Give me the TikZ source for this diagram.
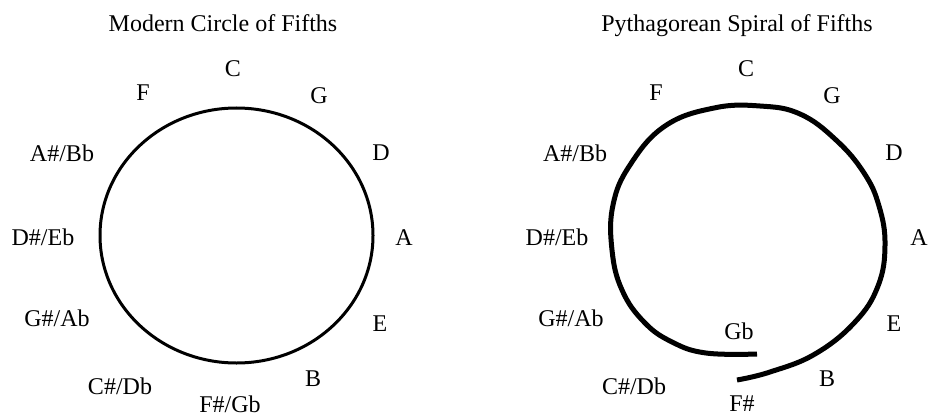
\documentclass[tikz,border=0pt]{standalone}
\usepackage{fontspec}
\setmainfont{Liberation Serif}
\begin{document}
\begin{tikzpicture}[x=1pt,y=-1pt,
  lab/.style={font=\fontsize{24}{26}\selectfont, inner sep=0pt, anchor=base},
  ring/.style={line width=3pt},
  spiralline/.style={line width=5pt, line cap=butt}]
\useasboundingbox (0,0) rectangle (928,417);
% ---- left: modern circle
\node[lab] (t1) at (223,32) {Modern Circle of Fifths};
\draw[ring] (236.5,235.5) ellipse [x radius=136.5, y radius=127.5];
\node[lab] (lC) at (233,77) {C};
\node[lab] (lG) at (319,103) {G};
\node[lab] (lF) at (143,101) {F};
\node[lab] (lD) at (381,160) {D};
\node[lab] (lAs) at (62,161) {A\#/Bb};
\node[lab] (lDs) at (43,245) {D\#/Eb};
\node[lab] (lA) at (404,245) {A};
\node[lab] (lGs) at (57,326) {G\#/Ab};
\node[lab] (lE) at (380,331) {E};
\node[lab] (lCs) at (120,394) {C\#/Db};
\node[lab] (lB) at (313,386) {B};
\node[lab] (lFs) at (230,412) {F\#/Gb};
% ---- right: pythagorean spiral
\node[lab] (t2) at (737,32) {Pythagorean Spiral of Fifths};
\draw[spiralline] plot[smooth, tension=0.7] coordinates {
 (757,354) (706,353) (672,342) (644,322) (622,290) (612,250) (613,205)
 (630,165) (665,126) (714,108) (760,106) (800,114) (836,140) (864,173)
 (879,206) (885,245) (878,286) (855,322) (815,354) (770,372) (737,380)};
\node[lab] (rC) at (746,77) {C};
\node[lab] (rG) at (832,103) {G};
\node[lab] (rF) at (656,101) {F};
\node[lab] (rD) at (894,160) {D};
\node[lab] (rAs) at (575,161) {A\#/Bb};
\node[lab] (rDs) at (557,245) {D\#/Eb};
\node[lab] (rA) at (919,245) {A};
\node[lab] (rGs) at (571,326) {G\#/Ab};
\node[lab] (rE) at (894,331) {E};
\node[lab] (rGb) at (739,339) {Gb};
\node[lab] (rCs) at (634,394) {C\#/Db};
\node[lab] (rB) at (827,386) {B};
\node[lab] (rFs) at (742,411) {F\#};
\end{tikzpicture}
\end{document}
